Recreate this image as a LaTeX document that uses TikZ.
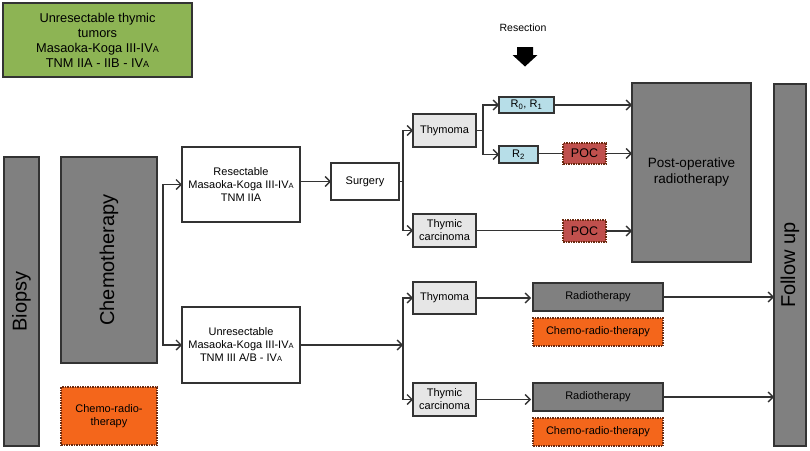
\documentclass[tikz,border=0pt]{standalone}
\usepackage{fontspec}
\setmainfont{Liberation Sans}
\usetikzlibrary{arrows.meta}
\definecolor{gborder}{HTML}{333333}
\definecolor{ggreen}{HTML}{8DB454}
\definecolor{ggray}{HTML}{808080}
\definecolor{glight}{HTML}{E6E6E6}
\definecolor{gblue}{HTML}{B7DEE8}
\definecolor{gorange}{HTML}{F4661B}
\definecolor{gred}{HTML}{C0504D}
\definecolor{gdash}{HTML}{6B2A10}
\newcommand{\smA}{{\fontsize{7.5}{8}\selectfont A}}
\tikzset{
  base/.style={draw=gborder, line width=1.5pt, inner sep=0pt, outer sep=0pt, align=center, text=black, font=\fontsize{11}{13}\selectfont},
  whitebox/.style={base, fill=white},
  graybox/.style={base, fill=ggray},
  lightbox/.style={base, fill=glight},
  bluebox/.style={base, fill=gblue},
  orangebox/.style={base, fill=gorange, draw=gdash, line width=1.1pt, dash pattern=on 1.5pt off 1pt},
  pocbox/.style={base, fill=gred, draw=gdash, line width=1.1pt, dash pattern=on 1.5pt off 1pt, font=\fontsize{12.5}{14}\selectfont},
  bigtext/.style={font=\fontsize{20}{22}\selectfont},
  arr/.style={draw=gborder, line width=1.3pt, -{Straight Barb[length=5pt,width=10pt,line width=1.3pt]}},
  ln/.style={draw=gborder, line width=1.3pt},
}
\begin{document}
\begin{tikzpicture}[x=1pt,y=-1pt]
\useasboundingbox[fill=white] (0,0) rectangle (810,450);

% boxes
\node[base, fill=ggreen, minimum width=189pt, minimum height=74pt, font=\fontsize{12.8}{15}\selectfont] (green) at (97.5,40) {Unresectable thymic\\tumors\\Masaoka-Koga III-IV{\fontsize{9}{9}\selectfont A}\\TNM IIA - IIB - IV{\fontsize{9}{9}\selectfont A}};

\node[graybox, minimum width=35pt, minimum height=289pt] (biopsy) at (21.5,301.5) {};
\node[bigtext, rotate=90] (biopsyt) at (biopsy.center) {Biopsy};
\node[graybox, minimum width=96pt, minimum height=206pt] (chemo) at (109,260) {};
\node[bigtext, rotate=90] (chemot) at (chemo.center) {Chemotherapy};
\node[orangebox, minimum width=96pt, minimum height=58pt] (crtl) at (109,416) {Chemo-radio-\\therapy};

\node[whitebox, minimum width=118pt, minimum height=75pt] (resect) at (241,184.5) {Resectable\\Masaoka-Koga III-IV\smA\\TNM IIA};
\node[whitebox, minimum width=118pt, minimum height=76pt] (unres) at (241,345) {Unresectable\\Masaoka-Koga III-IV\smA\\TNM III A/B - IV\smA};
\node[whitebox, minimum width=68pt, minimum height=37pt] (surgery) at (365,181.5) {Surgery};

\node[lightbox, minimum width=63pt, minimum height=33pt] (thyA) at (444.5,130.5) {Thymoma};
\node[lightbox, minimum width=63pt, minimum height=33pt] (tcA) at (444.5,230.5) {Thymic\\carcinoma};
\node[bluebox, minimum width=55pt, minimum height=16pt] (r01) at (526.5,105) {R$_{\mathrm{0}}$, R$_{\mathrm{1}}$};
\node[bluebox, minimum width=39pt, minimum height=17pt] (r2) at (518.5,154.5) {R$_{\mathrm{2}}$};
\node[pocbox, minimum width=43pt, minimum height=21pt] (pocA) at (584.5,153.5) {POC};
\node[pocbox, minimum width=43pt, minimum height=22pt] (pocB) at (584.5,231) {POC};
\node[graybox, minimum width=119pt, minimum height=179pt, font=\fontsize{13.5}{16}\selectfont] (postop) at (691.5,172.5) {Post-operative\\radiotherapy};
\node[graybox, minimum width=32pt, minimum height=362pt] (follow) at (790,265) {};
\node[bigtext, rotate=90] (followt) at (follow.center) {Follow up};

\node[lightbox, minimum width=63pt, minimum height=32pt] (thyB) at (444.5,298) {Thymoma};
\node[lightbox, minimum width=63pt, minimum height=33pt] (tcB) at (444.5,399.5) {Thymic\\carcinoma};
\node[graybox, minimum width=130pt, minimum height=28pt] (rtA) at (598,297) {Radiotherapy};
\node[orangebox, minimum width=130pt, minimum height=28pt] (crtA) at (598,332) {Chemo-radio-therapy};
\node[graybox, minimum width=130pt, minimum height=28pt] (rtB) at (598,397) {Radiotherapy};
\node[orangebox, minimum width=130pt, minimum height=28pt] (crtB) at (598,432) {Chemo-radio-therapy};

% resection
\node[font=\fontsize{10.5}{12}\selectfont] (restext) at (523,28) {Resection};
\fill[black] (517,47) -- (533,47) -- (533,55) -- (537.5,55) -- (525,66.5) -- (512.5,55) -- (517,55) -- cycle;

% fork coordinates
\coordinate (f0) at (163,265);
\coordinate (f1) at (403,0);
\coordinate (f2) at (483,0);

% connectors
\draw[arr] (f0) -- (f0 |- resect.west) -- (resect.west);
\draw[arr] (f0) -- (f0 |- unres.west) -- (unres.west);
\draw[arr] (resect.east |- surgery.west) -- (surgery.west);
\draw[ln] (surgery.east) -- (f1 |- surgery.east);
\draw[arr] (f1 |- surgery.east) -- (f1 |- thyA.west) -- (thyA.west);
\draw[arr] (f1 |- surgery.east) -- (f1 |- tcA.west) -- (tcA.west);
\draw[ln] (thyA.east) -- (f2 |- thyA.east);
\draw[arr] (f2 |- thyA.east) -- (f2 |- r01.west) -- (r01.west);
\draw[arr] (f2 |- thyA.east) -- (f2 |- r2.west) -- (r2.west);
\draw[arr] (r01.east) -- (postop.west |- r01.east);
\draw[ln] (r2.east |- pocA.west) -- (pocA.west);
\draw[arr] (pocA.east) -- (postop.west |- pocA.east);
\draw[ln] (tcA.east) -- (pocB.west |- tcA.east);
\draw[arr] (pocB.east) -- (postop.west |- pocB.east);

\draw[arr] (unres.east) -- (f1 |- unres.east);
\draw[arr] (f1 |- unres.east) -- (f1 |- thyB.west) -- (thyB.west);
\draw[arr] (f1 |- unres.east) -- (f1 |- tcB.west) -- (tcB.west);
\draw[arr] (thyB.east) -- ([xshift=-2pt]rtA.west |- thyB.east);
\draw[arr] (tcB.east) -- ([xshift=-2pt]rtB.west |- tcB.east);
\draw[arr] (rtA.east) -- (follow.west |- rtA.east);
\draw[arr] (rtB.east) -- (follow.west |- rtB.east);
\end{tikzpicture}
\end{document}
